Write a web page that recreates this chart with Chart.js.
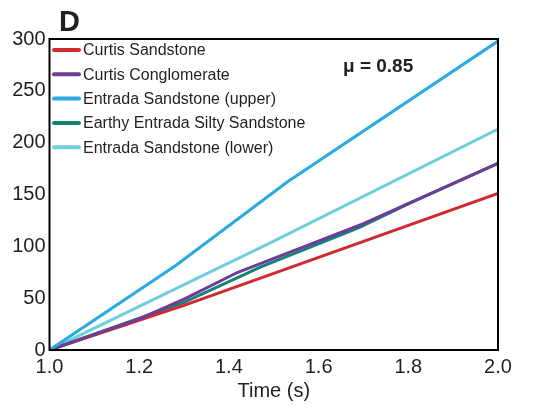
<!DOCTYPE html>
<html>
<head>
<meta charset="utf-8">
<script src="https://cdn.jsdelivr.net/npm/chart.js@4"></script>
<style>
  html, body { margin: 0; padding: 0; background: #fff; }
  #wrap { width: 535px; height: 410px; }
</style>
</head>
<body>
<div id="wrap"><canvas id="chart" width="535" height="410"></canvas></div>
<script>
// Series data (time in s)
const curtisSandstone = [[1.0, 0], [1.3, 43], [2.0, 151]];
const curtisConglomerate = [[1.0, 0], [1.2, 30], [1.3, 49], [1.42, 75], [1.7, 122], [2.0, 180]];
const entradaUpper = [[1.0, 0], [1.28, 81], [1.53, 162], [2.0, 298]];
const earthyEntrada = [[1.0, 0], [1.3, 46], [1.47, 80], [1.69, 118], [1.8, 141], [2.0, 180]];
const entradaLower = [[1.0, 0], [1.5, 105], [2.0, 213]];

const seriesNames = [
  "Curtis Sandstone",
  "Curtis Conglomerate",
  "Entrada Sandstone (upper)",
  "Earthy Entrada Silty Sandstone",
  "Entrada Sandstone (lower)"
];
const seriesColors = ["#d02a30", "#6e3b97", "#29abe2", "#148279", "#6fcfdc"];
const seriesData = [curtisSandstone, curtisConglomerate, entradaUpper, earthyEntrada, entradaLower];
const drawOrder = [2, 1, 0, 3, 4];

const xTicks = [1.0, 1.2, 1.4, 1.6, 1.8, 2.0];
const yTicks = [0, 50, 100, 150, 200, 250, 300];

const textColor = "#231f20";

// ================================
// Frame, legend and labels
// ================================
const decorations = {
  id: "decorations",
  afterDatasetsDraw(chart) {
    const { ctx, chartArea: a } = chart;
    ctx.save();
    ctx.strokeStyle = "#000";
    ctx.lineWidth = 2;
    ctx.strokeRect(a.left, a.top, a.right - a.left, a.bottom - a.top);

    // legend
    ctx.font = "16px 'Liberation Sans', Arial, sans-serif";
    ctx.textBaseline = "middle";
    ctx.lineCap = "round";
    chart.data.datasets.forEach((ds, i) => {
      const y = 50 + i * 24.3;
      ctx.strokeStyle = ds.borderColor;
      ctx.lineWidth = 4;
      ctx.beginPath();
      ctx.moveTo(54, y);
      ctx.lineTo(79, y);
      ctx.stroke();
      ctx.fillStyle = textColor;
      ctx.fillText(ds.label, 83, y + 1);
    });

    // panel letter and mu
    ctx.fillStyle = textColor;
    ctx.textBaseline = "alphabetic";
    ctx.font = "bold 29px 'Liberation Sans', Arial, sans-serif";
    ctx.fillText("D", 59, 31);
    ctx.font = "bold 19px 'Liberation Sans', Arial, sans-serif";
    ctx.fillText("\u03bc = 0.85", 343, 72);
    ctx.restore();
  }
};

new Chart(document.getElementById("chart"), {
  type: "line",
  data: {
    datasets: seriesData.map((pts, i) => ({
      label: seriesNames[i],
      data: pts.map(([x, y]) => ({ x, y })),
      borderColor: seriesColors[i],
      borderWidth: 3,
      pointRadius: 0,
      tension: 0,
      fill: false,
      order: drawOrder[i]
    }))
  },
  options: {
    responsive: false,
    animation: false,
    layout: { padding: { top: 39, right: 37, left: 0, bottom: 7 } },
    plugins: { legend: { display: false }, tooltip: { enabled: false } },
    scales: {
      x: {
        type: "linear",
        min: 1.0,
        max: 2.0,
        afterFit: s => { s.height = 53; },
        afterBuildTicks: s => { s.ticks = xTicks.map(v => ({ value: v })); },
        grid: { display: false, drawTicks: false },
        border: { display: false },
        ticks: {
          color: textColor,
          padding: 5,
          maxRotation: 0,
          font: { family: "'Liberation Sans', Arial, sans-serif", size: 20 },
          callback: v => v.toFixed(1)
        },
        title: {
          display: true,
          text: "Time (s)",
          color: textColor,
          padding: { top: 0, bottom: 0 },
          font: { family: "'Liberation Sans', Arial, sans-serif", size: 20 }
        }
      },
      y: {
        min: 0,
        max: 300,
        afterFit: s => { s.width = 49.5; },
        afterBuildTicks: s => { s.ticks = yTicks.map(v => ({ value: v })); },
        grid: { display: false, drawTicks: false },
        border: { display: false },
        ticks: {
          color: textColor,
          padding: 4,
          font: { family: "'Liberation Sans', Arial, sans-serif", size: 20 }
        }
      }
    }
  },
  plugins: [decorations]
});
</script>
</body>
</html>
